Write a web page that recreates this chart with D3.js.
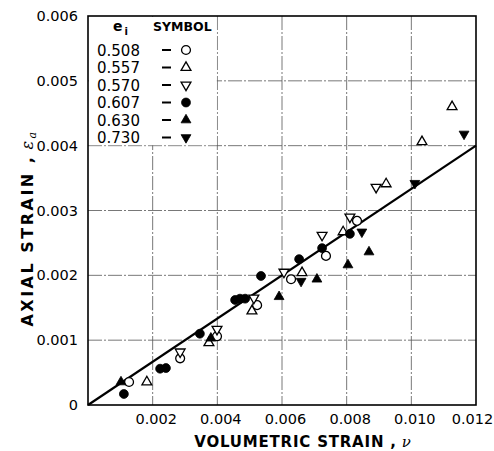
<!DOCTYPE html>
<html>
<head>
<meta charset="utf-8">
<script src="https://cdn.jsdelivr.net/npm/d3@7"></script>
<style>
html,body{margin:0;padding:0;background:#fff;}
svg{display:block;}
text{font-family:"DejaVu Sans",sans-serif;fill:#000;}
</style>
</head>
<body>
<svg id="chart" width="494" height="451"></svg>
<script>
// ---- data ----
const seriesNames = ["0.508", "0.557", "0.570", "0.607", "0.630", "0.730"];
const seriesSymbols = ["circleOpen", "triUpOpen", "triDownOpen", "circleFilled", "triUpFilled", "triDownFilled"];
const s0508 = [[0.00127,0.000355],[0.00285,0.00072],[0.00399,0.00106],[0.00523,0.00154],[0.00628,0.00194],[0.00736,0.00230],[0.00832,0.00284]];
const s0557 = [[0.00182,0.000355],[0.00374,0.00096],[0.00507,0.00145],[0.00662,0.00204],[0.00789,0.00267],[0.00922,0.00341],[0.01033,0.00406],[0.01126,0.00460]];
const s0570 = [[0.00285,0.00082],[0.00399,0.00117],[0.00513,0.00165],[0.00606,0.00205],[0.00724,0.00262],[0.00810,0.00290],[0.00891,0.00336]];
const s0607 = [[0.00111,0.00017],[0.00223,0.00056],[0.00241,0.00057],[0.00346,0.00110],[0.00455,0.00162],[0.00470,0.00164],[0.00486,0.00164],[0.00535,0.00199],[0.00653,0.00225],[0.00724,0.00242],[0.00810,0.00264]];
const s0630 = [[0.00102,0.000355],[0.00380,0.00103],[0.00591,0.00167],[0.00708,0.00194],[0.00804,0.00216],[0.00869,0.00236]];
const s0730 = [[0.00659,0.00191],[0.00847,0.00267],[0.01011,0.00342],[0.01163,0.00418]];
const seriesData = [s0508, s0557, s0570, s0607, s0630, s0730];
const fitLine = [[0, 0], [0.012, 0.004]];
const xTicks = [0.002, 0.004, 0.006, 0.008, 0.010, 0.012];
const yTicks = [0, 0.001, 0.002, 0.003, 0.004, 0.005, 0.006];
const xTitle = "VOLUMETRIC STRAIN ,";
const yTitle = "AXIAL STRAIN ,";

// ---- layout ----
const svg = d3.select("#chart");
const L = 88, R = 476, T = 16, B = 405;
const x = d3.scaleLinear().domain([0, 0.012]).range([L, R]);
const y = d3.scaleLinear().domain([0, 0.006]).range([B, T]);

// gridlines
const grid = svg.append("g").attr("stroke", "#555").attr("stroke-width", 0.8).attr("stroke-dasharray", "14,2,2,2");
grid.selectAll("line.v").data(xTicks.slice(0, -1)).join("line")
  .attr("x1", d => x(d)).attr("x2", d => x(d)).attr("y1", T).attr("y2", B);
grid.selectAll("line.h").data(yTicks.slice(1, -1)).join("line")
  .attr("x1", L).attr("x2", R).attr("y1", d => y(d)).attr("y2", d => y(d));

// legend area blanks the grid
svg.append("rect").attr("x", L + 1).attr("y", T + 1)
  .attr("width", x(0.004) - L - 1.5).attr("height", y(0.004) - T - 1.5).attr("fill", "#fff");

// frame
svg.append("rect").attr("x", L).attr("y", T).attr("width", R - L).attr("height", B - T)
  .attr("fill", "none").attr("stroke", "#000").attr("stroke-width", 1.6);

// axes
const fmt = d => d === 0 ? "0" : d3.format(".3f")(d);
const xAxis = svg.append("g").attr("transform", `translate(0,${B})`)
  .call(d3.axisBottom(x).tickValues(xTicks).tickSize(0).tickPadding(9).tickFormat(fmt));
const yAxis = svg.append("g").attr("transform", `translate(${L},0)`)
  .call(d3.axisLeft(y).tickValues(yTicks).tickSize(0).tickPadding(10).tickFormat(fmt));
[xAxis, yAxis].forEach(a => {
  a.select(".domain").remove();
  a.selectAll("text").attr("font-family", "DejaVu Sans, sans-serif").attr("font-size", 14.5).attr("fill", "#000");
});
xAxis.selectAll("text").attr("dx", (d, i) => i === xTicks.length - 1 ? -4 : 3);

// fit line
svg.append("path").datum(fitLine)
  .attr("d", d3.line().x(d => x(d[0])).y(d => y(d[1])))
  .attr("stroke", "#000").attr("stroke-width", 2.2).attr("fill", "none");

// symbols
function sym(kind) {
  const isCircle = kind.startsWith("circle");
  return d3.symbol().type(isCircle ? d3.symbolCircle : d3.symbolTriangle).size(isCircle ? 62 : 42)();
}
function drawMark(g, kind) {
  const filled = kind.endsWith("Filled");
  const down = kind.startsWith("triDown");
  g.append("path").attr("d", sym(kind))
    .attr("transform", down ? "rotate(180)" : null)
    .attr("fill", filled ? "#000" : "#fff")
    .attr("stroke", "#000").attr("stroke-width", filled ? 0.8 : 1.3);
}
seriesData.forEach((data, i) => {
  svg.append("g").selectAll("g").data(data).join("g")
    .attr("transform", d => `translate(${x(d[0])},${y(d[1])})`)
    .each(function () { drawMark(d3.select(this), seriesSymbols[i]); });
});

// legend
const lg = svg.append("g");
const hdr = lg.append("text").attr("x", 113).attr("y", 31).attr("font-size", 14).attr("font-weight", "bold");
hdr.append("tspan").text("e");
hdr.append("tspan").attr("dx", 2).attr("dy", 4).attr("font-size", 10).text("i");
lg.append("text").attr("x", 153).attr("y", 31).attr("font-size", 12.5).attr("font-weight", "bold").text("SYMBOL");
seriesNames.forEach((n, i) => {
  const yy = 50 + i * 17.5;
  lg.append("text").attr("x", 97).attr("y", yy + 5.5).attr("font-size", 15).text(n);
  lg.append("line").attr("x1", 162).attr("x2", 171).attr("y1", yy).attr("y2", yy).attr("stroke", "#000").attr("stroke-width", 2);
  const m = lg.append("g").attr("transform", `translate(186,${yy})`);
  drawMark(m, seriesSymbols[i]);
});

// axis titles
const xt = svg.append("text").attr("x", 303).attr("y", 447).attr("text-anchor", "middle")
  .attr("font-size", 15).attr("font-weight", "bold").attr("letter-spacing", 0.8);
xt.append("tspan").text(xTitle);
xt.append("tspan").attr("dx", 5).attr("font-family", "DejaVu Serif, serif").attr("font-style", "italic").attr("font-weight", "normal").text("ν");

const yt = svg.append("text").attr("transform", "translate(33,228) rotate(-90)").attr("text-anchor", "middle")
  .attr("font-size", 16).attr("font-weight", "bold").attr("letter-spacing", 2.5);
yt.append("tspan").text(yTitle);
yt.append("tspan").attr("dx", 5).attr("font-family", "DejaVu Serif, serif").attr("font-style", "italic").attr("font-weight", "normal").text("ε");
yt.append("tspan").attr("dy", 3).attr("font-family", "DejaVu Serif, serif").attr("font-style", "italic").attr("font-weight", "normal").attr("font-size", 11).text("a");
</script>
</body>
</html>
